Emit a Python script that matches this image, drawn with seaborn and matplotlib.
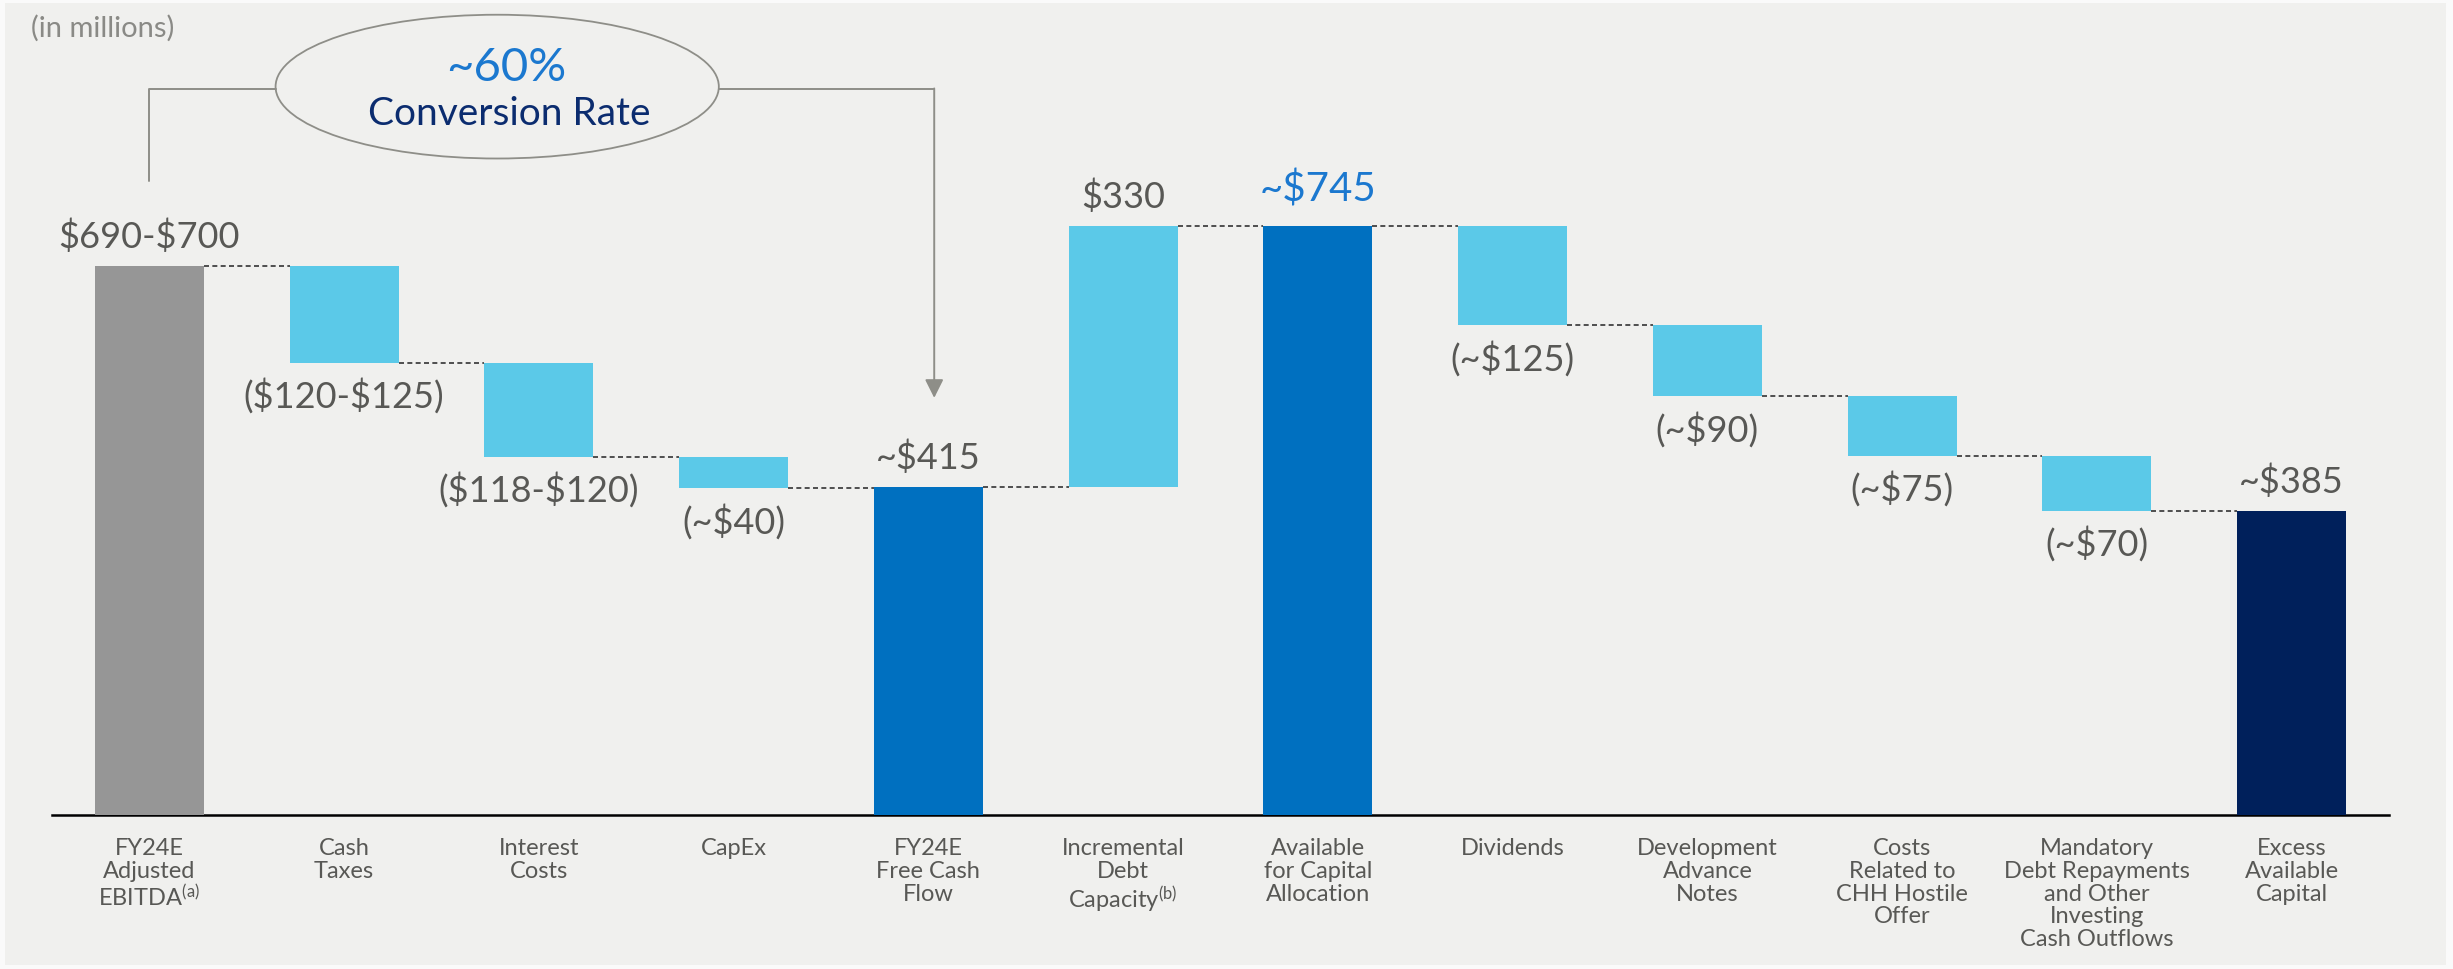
import matplotlib
matplotlib.use("Agg")
import matplotlib.pyplot as plt
from matplotlib.patches import Ellipse, Rectangle
import numpy as np
import pandas as pd
import seaborn as sns

# ---- data ($ in millions) ----
categories = [
    "FY24E\nAdjusted\nEBITDA$^{\\mathregular{(a)}}$",
    "Cash\nTaxes",
    "Interest\nCosts",
    "CapEx",
    "FY24E\nFree Cash\nFlow",
    "Incremental\nDebt\nCapacity$^{\\mathregular{(b)}}$",
    "Available\nfor Capital\nAllocation",
    "Dividends",
    "Development\nAdvance\nNotes",
    "Costs\nRelated to\nCHH Hostile\nOffer",
    "Mandatory\nDebt Repayments\nand Other\nInvesting\nCash Outflows",
    "Excess\nAvailable\nCapital",
]
kinds = ["total", "step", "step", "step", "total", "step",
         "total", "step", "step", "step", "step", "total"]
value_low = [690, -120, -118, -40, 415, 330, 745, -125, -90, -75, -70, 385]
value_high = [700, -125, -120, -40, 415, 330, 745, -125, -90, -75, -70, 385]
value_labels = ["$690-$700", "($120-$125)", "($118-$120)", "(~$40)", "~$415",
                "$330", "~$745", "(~$125)", "(~$90)", "(~$75)", "(~$70)", "~$385"]
conversion_label = "~60%"

# ---- styling ----
GREY_BAR = "#969696"
LIGHT_BLUE = "#5BC9E8"
MID_BLUE = "#0070C0"
NAVY = "#00205B"
bar_colors = [GREY_BAR, LIGHT_BLUE, LIGHT_BLUE, LIGHT_BLUE, MID_BLUE, LIGHT_BLUE,
              MID_BLUE, LIGHT_BLUE, LIGHT_BLUE, LIGHT_BLUE, LIGHT_BLUE, NAVY]
TEXT_GREY = "#585855"
LINE_GREY = "#8E8E88"
PANEL = "#F0F0EE"

sns.set_theme(style="white")
plt.rcParams["font.family"] = ["Lato", "DejaVu Sans"]
plt.rcParams["font.weight"] = "normal"
plt.rcParams["mathtext.default"] = "regular"

# ---- waterfall geometry ----
mid = [(lo + hi) / 2 for lo, hi in zip(value_low, value_high)]
bottoms, heights, ends = [], [], []
running = 0.0
for kind, v in zip(kinds, mid):
    if kind == "total":
        bottoms.append(0.0)
        heights.append(v)
        running = v
    else:
        if v >= 0:
            bottoms.append(running)
            heights.append(v)
        else:
            bottoms.append(running + v)
            heights.append(-v)
        running += v
    ends.append(running)

df = pd.DataFrame({"item": categories, "height": heights})

W, H = 2453, 970
fig = plt.figure(figsize=(W / 100, H / 100), dpi=100, facecolor="#FAFAFA")
fig.patches.append(Rectangle((5 / W, 4 / H), (W - 12) / W, (H - 8) / H,
                             transform=fig.transFigure, facecolor=PANEL,
                             edgecolor="none", zorder=-5))

base_px = 816
ax = fig.add_axes([52 / W, (H - base_px) / H, (2389 - 52) / W, base_px / H])
ax.set_facecolor("none")

bar_width = 0.56
sns.barplot(data=df, x="item", y="height", order=categories, bottom=bottoms,
            width=bar_width, saturation=1, errorbar=None, color=LIGHT_BLUE,
            ax=ax, zorder=3)
for patch, c in zip(ax.patches, bar_colors):
    patch.set_facecolor(c)
    patch.set_edgecolor("none")

px_per_unit = 0.79
ax.set_xlim(-0.5, 11.5)
ax.set_ylim(0, base_px / px_per_unit)

# dashed connectors between consecutive bars
half = bar_width / 2
for i in range(len(categories) - 1):
    ax.plot([i + half, i + 1 - half], [ends[i], ends[i]], color="#333333",
            lw=1.2, ls=(0, (3, 2)), zorder=2)

# value labels
for i, (lab, kind, v) in enumerate(zip(value_labels, kinds, mid)):
    top = bottoms[i] + heights[i]
    if kind == "total" or v >= 0:
        big = i == 6
        ax.annotate(lab, xy=(i, top), xytext=(0, 27 if big else 22),
                    textcoords="offset points", ha="center", va="center",
                    fontsize=29 if big else 26,
                    color="#1B78CF" if big else TEXT_GREY, parse_math=False)
    else:
        ax.annotate(lab, xy=(i, bottoms[i]), xytext=(0, -23),
                    textcoords="offset points", ha="center", va="center",
                    fontsize=26, color=TEXT_GREY, parse_math=False)

# axes cosmetics
sns.despine(ax=ax, left=True, top=True, right=True)
ax.spines["bottom"].set_color("black")
ax.spines["bottom"].set_linewidth(1.8)
ax.set_xlabel("")
ax.set_ylabel("")
ax.set_yticks([])
ax.set_xticks(range(len(categories)))
ax.set_xticklabels(categories, fontsize=17, color=TEXT_GREY, linespacing=1.1,
                   va="top", ha="center", multialignment="center")
ax.tick_params(axis="x", length=0, pad=16)

# conversion-rate callout
ell_x, ell_y = 1.786, ends[0] + 227
ell = Ellipse((ell_x, ell_y), width=2.276, height=182, facecolor="none",
              edgecolor=LINE_GREY, lw=1.3, zorder=4, clip_on=False)
ax.add_patch(ell)
ax.text(ell_x + 0.045, ell_y + 25, conversion_label, ha="center", va="center",
        fontsize=34, color="#1B78CF", clip_on=False)
ax.text(ell_x + 0.06, ell_y - 33, "Conversion Rate", ha="center", va="center",
        fontsize=28, color="#0B2C6F", clip_on=False)

bracket_y = ell_y - 3
ax.plot([0, 0, ell_x - 2.276 / 2], [ends[0] + 108, bracket_y, bracket_y],
        color=LINE_GREY, lw=1.4, zorder=4, clip_on=False)
ax.plot([ell_x + 2.276 / 2, 4.03], [bracket_y, bracket_y],
        color=LINE_GREY, lw=1.4, zorder=4, clip_on=False)
ax.annotate("", xy=(4.03, ends[4] + 113), xytext=(4.03, bracket_y + 0.7),
            arrowprops=dict(arrowstyle="-|>", color=LINE_GREY, lw=1.4,
                            mutation_scale=28, shrinkA=0, shrinkB=0))

fig.text(31 / W, 1 - 28 / H, "(in millions)", ha="left", va="center",
         fontsize=21, color="#8A8A86")

fig.savefig("out.png", dpi=100, facecolor=fig.get_facecolor())
